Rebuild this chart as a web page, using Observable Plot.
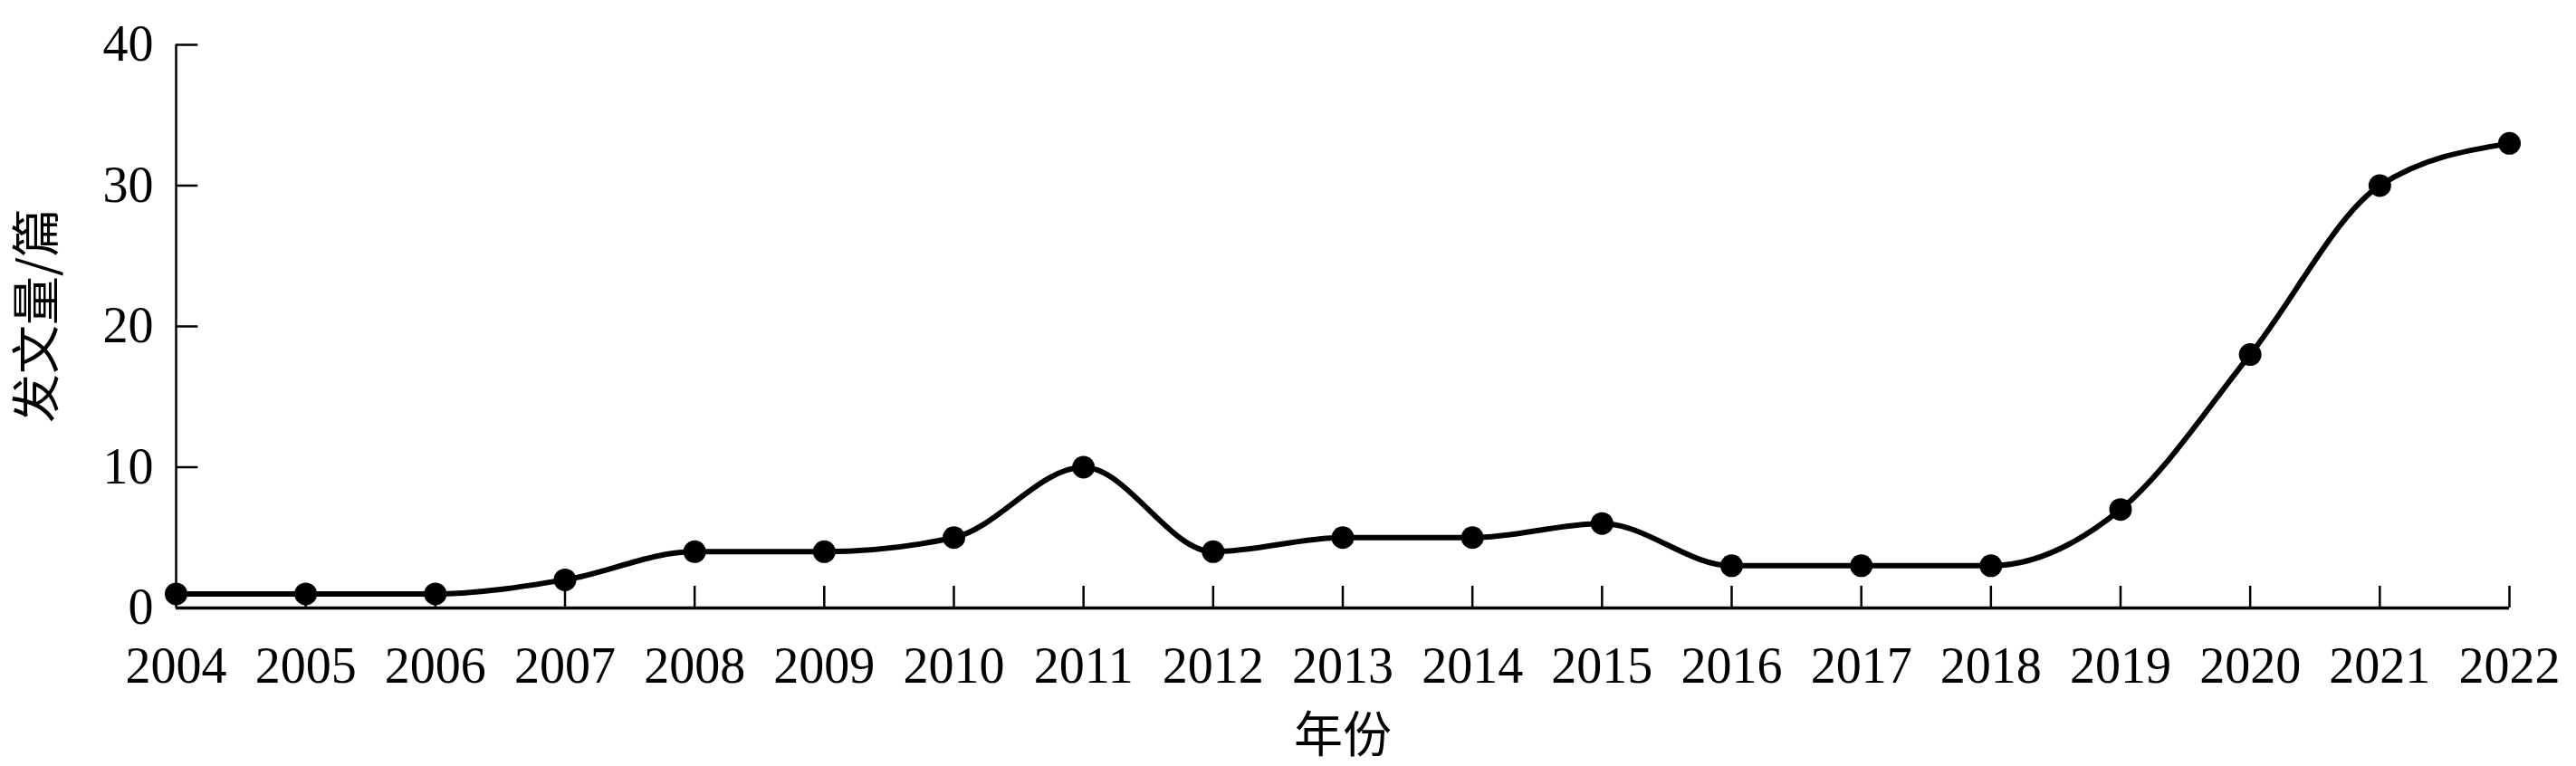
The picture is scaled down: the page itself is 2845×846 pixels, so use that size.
<!DOCTYPE html>
<html>
<head>
<meta charset="utf-8">
<script src="https://cdn.jsdelivr.net/npm/d3@7"></script>
<script src="https://cdn.jsdelivr.net/npm/@observablehq/plot@0.6"></script>
<style>
  html, body { margin: 0; padding: 0; background: #fff; }
  #chart svg { display: block; }
</style>
</head>
<body>
<div id="chart"></div>
<script>
const years = [2004, 2005, 2006, 2007, 2008, 2009, 2010, 2011, 2012, 2013, 2014, 2015, 2016, 2017, 2018, 2019, 2020, 2021, 2022];
const counts = [1, 1, 1, 2, 4, 4, 5, 10, 4, 5, 5, 6, 3, 3, 3, 7, 18, 30, 33];
const yTicks = [0, 10, 20, 30, 40];
const xTitle = "年份";
const yTitle = "发文量/篇";

const data = years.map((y, i) => ({year: y, count: counts[i]}));

const serif = "'Liberation Serif', 'Times New Roman', serif";
const cjk = "'Noto Sans CJK SC', sans-serif";

const chart = Plot.plot({
  width: 2845,
  height: 846,
  marginLeft: 194,
  marginRight: 74,
  marginTop: 49,
  marginBottom: 175,
  style: {background: "#fff", color: "#000"},
  x: {type: "linear", domain: [2004, 2022]},
  y: {domain: [0, 40]},
  marks: [
    Plot.axisX({ticks: years, tickFormat: d => String(d), tickSize: 0, tickPadding: 43, fontSize: 56, fontFamily: serif, label: null, fill: "#000"}),
    Plot.axisY({ticks: yTicks, tickSize: 0, tickPadding: 25, fontSize: 56, fontFamily: serif, label: null, fill: "#000"}),
    // inward ticks
    Plot.ruleX(years.slice(1), {x: d => d, y1: 0, y2: 1.55, stroke: "#000", strokeWidth: 2.5}),
    Plot.ruleY(yTicks.slice(1), {y: d => d, x1: 2004, x2: 2004.17, stroke: "#000", strokeWidth: 2.5}),
    // axis lines
    Plot.ruleY([0], {x1: 2004, x2: 2022, stroke: "#000", strokeWidth: 3.5}),
    Plot.ruleX([2004], {y1: 0, y2: 40, stroke: "#000", strokeWidth: 2.5}),
    Plot.line(data, {x: "year", y: "count", curve: "monotone-x", stroke: "#000", strokeWidth: 6}),
    Plot.dot(data, {x: "year", y: "count", r: 12.5, fill: "#000", stroke: "none"}),
    Plot.text([xTitle], {frameAnchor: "bottom", dy: 142, fontSize: 54, fontFamily: cjk, fill: "#000", lineAnchor: "middle"}),
    Plot.text([yTitle], {frameAnchor: "left", textAnchor: "middle", dx: -152, dy: -12, rotate: -90, fontSize: 54, fontFamily: cjk, fill: "#000", lineAnchor: "middle"})
  ]
});
document.getElementById("chart").appendChild(chart);
</script>
</body>
</html>
